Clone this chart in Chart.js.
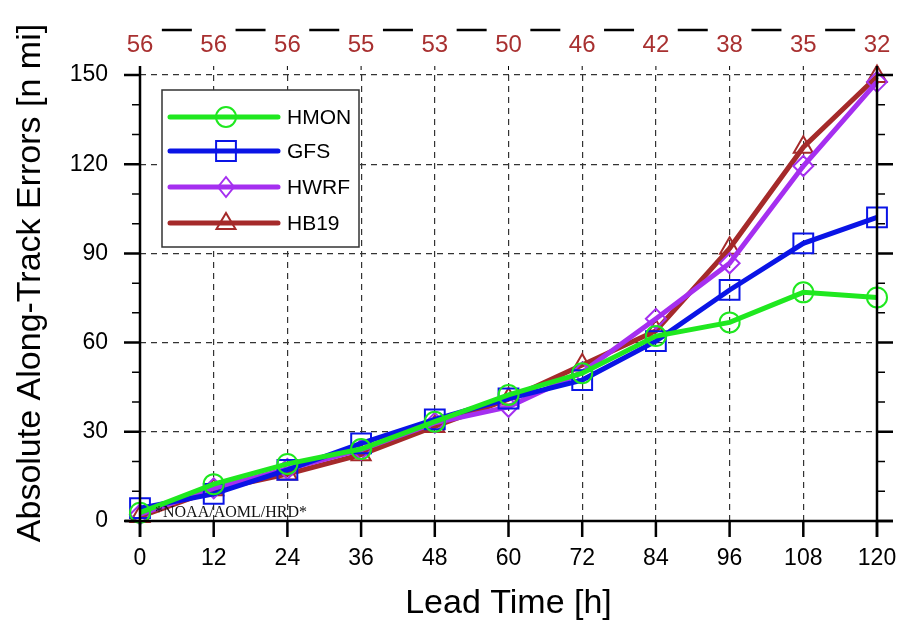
<!DOCTYPE html>
<html>
<head>
<meta charset="utf-8">
<script src="https://cdn.jsdelivr.net/npm/chart.js@4"></script>
<style>
  html, body { margin: 0; padding: 0; background: #fff; }
  canvas { display: block; }
</style>
</head>
<body>
<canvas id="myChart" width="900" height="625"></canvas>
<script>
// lead times and number of verifying cases
const hours = [0, 12, 24, 36, 48, 60, 72, 84, 96, 108, 120];
const caseCounts = [56, 56, 56, 55, 53, 50, 46, 42, 38, 35, 32];

const hmon = [2.8, 12.4, 19.2, 24.2, 33.4, 42.4, 49.7, 62.2, 66.8, 76.9, 75.2];
const gfs  = [4.3, 9.1, 17.2, 26.1, 34.2, 41.2, 47.4, 60.5, 77.7, 93.4, 102.1];
const hwrf = [2.2, 11.0, 17.5, 24.0, 33.0, 38.4, 50.0, 68.0, 86.7, 119.4, 147.7];
const hb19 = [1.5, 10.5, 15.8, 22.3, 31.8, 41.0, 52.5, 64.0, 91.7, 125.7, 149.5];

const yTicks = [0, 30, 60, 90, 120, 150];

const models = [
  {name: 'HMON', values: hmon, color: '#1fe81f', style: 'circle', r: 10},
  {name: 'GFS',  values: gfs,  color: '#0a14e6', style: 'rect', r: 14},
  {name: 'HWRF', values: hwrf, color: '#a52ff0', style: 'rectRot', r: 10},
  {name: 'HB19', values: hb19, color: '#a52a2a', style: 'triangle', r: 11}
];

const SANS = '"Liberation Sans", Arial, sans-serif';

function drawMarker(ctx, style, x, y, r, color) {
  ctx.save();
  ctx.strokeStyle = color;
  ctx.lineWidth = 2;
  ctx.beginPath();
  if (style === 'circle') {
    ctx.arc(x, y, r, 0, Math.PI * 2);
  } else if (style === 'rect') {
    const s = r * Math.SQRT1_2;
    ctx.rect(x - s, y - s, 2 * s, 2 * s);
  } else if (style === 'rectRot') {
    ctx.moveTo(x, y - r); ctx.lineTo(x + r * 0.8, y); ctx.lineTo(x, y + r); ctx.lineTo(x - r * 0.8, y); ctx.closePath();
  } else {
    ctx.moveTo(x, y - r); ctx.lineTo(x + r * 0.95, y + r * 0.6); ctx.lineTo(x - r * 0.95, y + r * 0.6); ctx.closePath();
  }
  ctx.stroke();
  ctx.restore();
}

const decorations = {
  id: 'decorations',
  afterDatasetsDraw(chart) {
    const ctx = chart.ctx;
    const xs = chart.scales.x, ys = chart.scales.y;
    const a = chart.chartArea;
    ctx.save();
    ctx.strokeStyle = '#000';
    ctx.lineCap = 'butt';

    // axis lines
    ctx.lineWidth = 2.5;
    ctx.beginPath();
    ctx.moveTo(a.left - 15, a.bottom); ctx.lineTo(a.right + 16, a.bottom);
    ctx.moveTo(a.left, a.top - 9); ctx.lineTo(a.left, a.bottom + 16);
    ctx.moveTo(a.right, a.top - 9); ctx.lineTo(a.right, a.bottom + 16);
    ctx.stroke();

    // x ticks
    ctx.lineWidth = 2.5;
    ctx.beginPath();
    hours.forEach(h => {
      const px = xs.getPixelForValue(h);
      ctx.moveTo(px, a.bottom); ctx.lineTo(px, a.bottom + 16);
    });
    ctx.stroke();
    ctx.lineWidth = 1;
    ctx.beginPath();
    hours.forEach(h => {
      const px = xs.getPixelForValue(h);
      ctx.moveTo(px, a.top - 9); ctx.lineTo(px, a.top - 5);
    });
    ctx.stroke();

    // y ticks, major and minor, both sides
    for (let v = 0; v <= 150; v += 10) {
      const py = ys.getPixelForValue(v);
      const len = (v % 30 === 0) ? 16 : 8;
      ctx.lineWidth = (v % 30 === 0) ? 2.5 : 1.5;
      ctx.beginPath();
      ctx.moveTo(a.left - len, py); ctx.lineTo(a.left, py);
      ctx.moveTo(a.right, py); ctx.lineTo(a.right + len, py);
      ctx.stroke();
    }

    // dashed line above the case counts
    ctx.lineWidth = 2.5;
    ctx.beginPath();
    for (let i = 0; i < hours.length - 1; i++) {
      const mid = (xs.getPixelForValue(hours[i]) + xs.getPixelForValue(hours[i + 1])) / 2;
      ctx.moveTo(mid - 15, 30); ctx.lineTo(mid + 15, 30);
    }
    ctx.stroke();

    // case counts
    ctx.fillStyle = '#a83030';
    ctx.font = '24px ' + SANS;
    ctx.textAlign = 'center';
    ctx.textBaseline = 'middle';
    caseCounts.forEach((c, i) => {
      ctx.fillText(String(c), xs.getPixelForValue(hours[i]), 45);
    });

    // watermark
    ctx.fillStyle = '#111';
    ctx.font = '16px "Liberation Serif", "Times New Roman", serif';
    ctx.textAlign = 'left';
    ctx.fillText('*NOAA/AOML/HRD*', 155, 513);

    // axis titles
    ctx.fillStyle = '#000';
    ctx.font = '34px ' + SANS;
    ctx.textAlign = 'center';
    ctx.fillText('Lead Time [h]', (a.left + a.right) / 2, 604);
    ctx.save();
    ctx.translate(31, 283);
    ctx.rotate(-Math.PI / 2);
    ctx.fillText('Absolute Along-Track Errors [n mi]', 0, 0);
    ctx.restore();

    // legend box
    ctx.fillStyle = '#fff';
    ctx.fillRect(162, 90, 197, 157);
    ctx.strokeStyle = '#333';
    ctx.lineWidth = 1.5;
    ctx.strokeRect(162, 90, 197, 157);
    const rows = [117, 151, 187, 223];
    models.forEach((m, i) => {
      const y = rows[i];
      ctx.strokeStyle = m.color;
      ctx.lineWidth = 5;
      ctx.lineCap = 'round';
      ctx.beginPath();
      ctx.moveTo(170, y); ctx.lineTo(278, y);
      ctx.stroke();
      ctx.lineCap = 'butt';
      drawMarker(ctx, m.style, 226, y, m.style === 'rect' ? 14 : 10, m.color);
      ctx.fillStyle = '#000';
      ctx.font = '21px ' + SANS;
      ctx.textAlign = 'left';
      ctx.textBaseline = 'middle';
      ctx.fillText(m.name, 287, y + 1);
    });
    ctx.restore();
  }
};

const ctx = document.getElementById('myChart').getContext('2d');
new Chart(ctx, {
  type: 'line',
  data: {
    datasets: models.map(m => ({
      label: m.name,
      data: hours.map((h, i) => ({x: h, y: m.values[i]})),
      borderColor: m.color,
      borderWidth: 5,
      pointStyle: m.style,
      pointRadius: m.r,
      pointBorderWidth: 2,
      pointBorderColor: m.color,
      pointBackgroundColor: 'rgba(0,0,0,0)',
      tension: 0,
      clip: false
    }))
  },
  options: {
    responsive: false,
    animation: false,
    layout: {autoPadding: false, padding: {top: 75, right: 23, left: 0, bottom: 0}},
    plugins: {legend: {display: false}, tooltip: {enabled: false}},
    scales: {
      x: {
        type: 'linear', min: 0, max: 120,
        afterFit: s => { s.height = 104; s.paddingLeft = 0; s.paddingRight = 0; },
        afterBuildTicks: s => { s.ticks = hours.map(v => ({value: v})); },
        grid: {color: '#333', lineWidth: 1.2, drawTicks: false},
        border: {display: false, dash: [6, 5]},
        ticks: {color: '#000', font: {size: 23, family: SANS}, padding: 24, maxRotation: 0}
      },
      y: {
        min: 0, max: 150,
        afterFit: s => { s.width = 140; s.paddingTop = 0; s.paddingBottom = 0; },
        afterBuildTicks: s => { s.ticks = yTicks.map(v => ({value: v})); },
        grid: {color: '#333', lineWidth: 1.2, drawTicks: false},
        border: {display: false, dash: [6, 5]},
        ticks: {color: '#000', font: {size: 23, family: SANS}, padding: 32}
      }
    }
  },
  plugins: [decorations]
});
</script>
</body>
</html>
